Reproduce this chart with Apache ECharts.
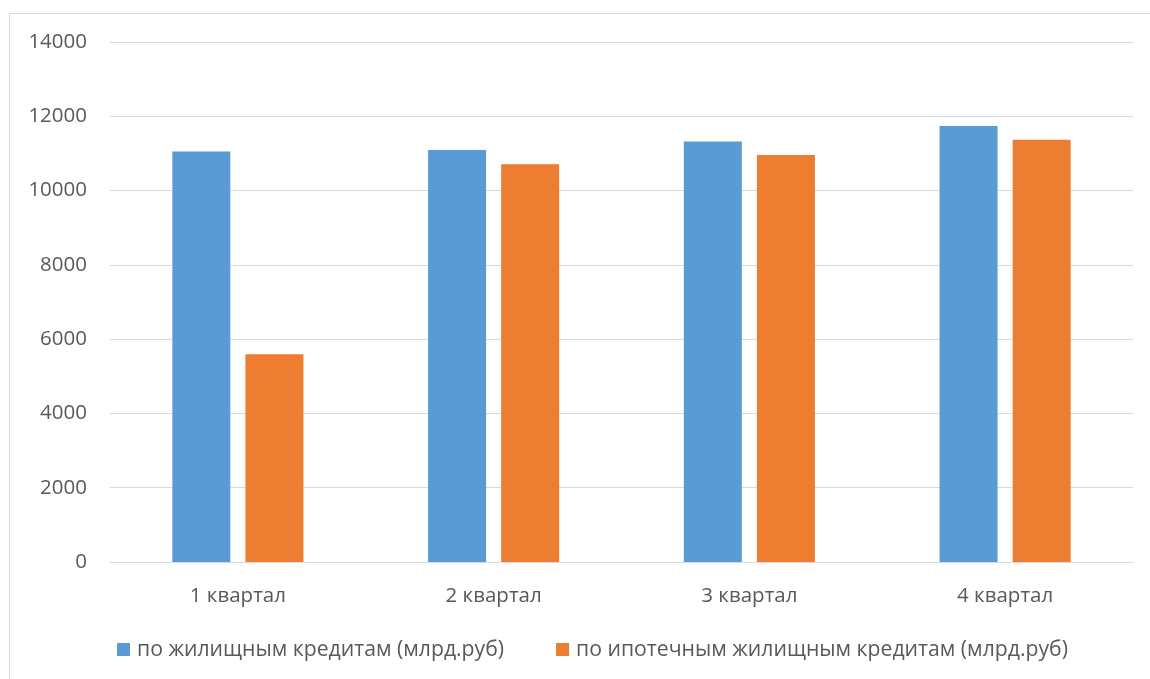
<!DOCTYPE html>
<html>
<head>
<meta charset="utf-8">
<style>
  html, body { margin: 0; padding: 0; background: #ffffff; }
  #frame { position: absolute; left: 9px; top: 13px; width: 1160px; height: 700px; border: 1px solid #d9d9d9; box-sizing: border-box; }
  #chart { position: absolute; left: 0; top: 0; width: 1150px; height: 679px; }
</style>
<script src="https://cdn.jsdelivr.net/npm/echarts@6/dist/echarts.min.js"></script>
</head>
<body>
<div id="frame"></div>
<div id="chart"></div>
<script>
// Quarterly volumes, bn RUB
const categories = ['1 квартал', '2 квартал', '3 квартал', '4 квартал'];
const housingLoans = [11050, 11090, 11320, 11740];
const mortgageLoans = [5590, 10710, 10960, 11370];
const seriesNames = ['по жилищным кредитам (млрд.руб)', 'по ипотечным жилищным кредитам (млрд.руб)'];
const yTicks = { min: 0, max: 14000, interval: 2000 };

const textColor = '#595959';
const fontFamily = 'Open Sans, Noto Sans, sans-serif';
const fontSize = 20.5;

const chart = echarts.init(document.getElementById('chart'), null, { renderer: 'canvas' });
chart.setOption({
  backgroundColor: 'transparent',
  animation: false,
  grid: { left: 110, right: 17, top: 42, bottom: 117, containLabel: false },
  legend: {
    left: 112,
    top: 634,
    itemWidth: 13,
    itemHeight: 13,
    itemGap: 52,
    icon: 'rect',
    textStyle: { color: textColor, fontSize: 21.2, fontFamily: fontFamily, padding: [0, 0, 0, 2] },
    data: seriesNames
  },
  xAxis: {
    type: 'category',
    data: categories,
    axisLine: { lineStyle: { color: '#d9d9d9', width: 1 } },
    axisTick: { show: false },
    axisLabel: { color: textColor, fontSize: fontSize, fontFamily: fontFamily, margin: 24 }
  },
  yAxis: {
    type: 'value',
    min: yTicks.min,
    max: yTicks.max,
    interval: yTicks.interval,
    axisLine: { show: false },
    axisTick: { show: false },
    splitLine: { lineStyle: { color: '#d9d9d9', width: 1 } },
    axisLabel: {
      color: textColor, fontSize: fontSize, fontFamily: fontFamily, margin: 23,
      formatter: (v) => String(v)
    }
  },
  series: [
    {
      name: seriesNames[0],
      type: 'bar',
      data: housingLoans,
      barWidth: 58,
      barGap: '26%',
      itemStyle: { color: '#5B9BD5' }
    },
    {
      name: seriesNames[1],
      type: 'bar',
      data: mortgageLoans,
      barWidth: 58,
      barGap: '26%',
      itemStyle: { color: '#ED7D31' }
    }
  ]
});
</script>
</body>
</html>
